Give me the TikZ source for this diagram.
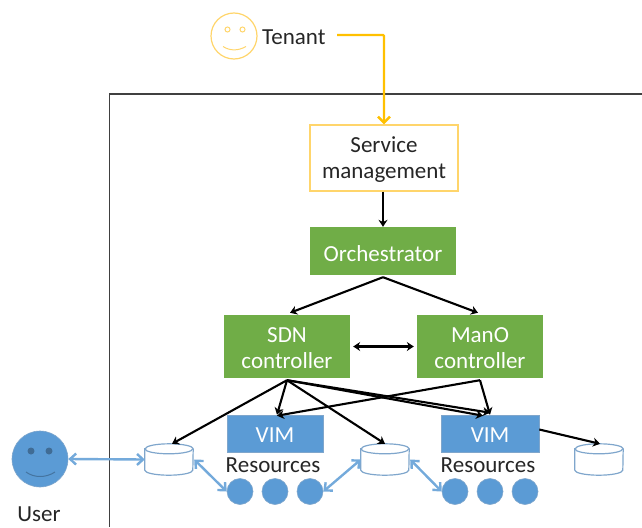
\documentclass[tikz,border=0pt]{standalone}
\usepackage{fontspec}
\setmainfont{Carlito}
\usetikzlibrary{arrows.meta,calc}
\definecolor{ygold}{HTML}{FFC000}
\definecolor{ysoft}{HTML}{FFD56B}
\definecolor{bfill}{HTML}{5B9BD5}
\definecolor{bline}{HTML}{7FA6CC}
\definecolor{gfill}{HTML}{70AD47}
\definecolor{txt}{HTML}{262626}
\tikzset{
 x=1pt,y=-1pt,
 every node/.style={font=\fontsize{23}{26.5}\selectfont,text=txt,align=center,inner sep=0pt},
 greenbox/.style={fill=gfill,text=white,minimum height=#1},
 greenbox/.default=63pt,
 vimbox/.style={fill=bfill,draw=bline,line width=.6pt,text=white,minimum height=37pt},
 res/.style={circle,fill=bfill,draw=bline,line width=.6pt,minimum size=26pt},
 store/.style={minimum width=48pt,minimum height=31pt},
 storeline/.style={draw=bline,fill=white,line width=1.2pt},
 blk/.style={draw=black,line width=2.1pt,-{Stealth[length=7pt,width=9pt]}},
 blkb/.style={draw=black,line width=2.1pt,{Stealth[length=7pt,width=9pt]}-{Stealth[length=7pt,width=9pt]}},
 blu/.style={draw=bfill!85!white,line width=2.4pt,{Straight Barb[length=6pt,width=11pt]}-{Straight Barb[length=6pt,width=11pt]}},
 gold/.style={draw=ygold,line width=2.4pt,-{Straight Barb[length=6pt,width=12pt]}},
}
\newcommand{\dn}[1]{\rule{0pt}{#1pt}}
\newcommand{\drumat}[1]{%
 \draw[storeline] (#1.north west)++(0,5) -- ($(#1.south west)+(0,-5)$)
   arc[start angle=180,end angle=360,x radius=24,y radius=-5] -- ($(#1.north east)+(0,5)$)
   arc[start angle=0,end angle=180,x radius=24,y radius=-5] -- cycle;
 \draw[storeline,fill=none] (#1.north west)++(0,5)
   arc[start angle=180,end angle=360,x radius=24,y radius=-5];
}
\begin{document}
\begin{tikzpicture}
\useasboundingbox (0,0) rectangle (642,527);
% frame
\draw[draw=black!75,line width=1.2pt] (642,94) -- (109.5,94) -- (109.5,527);
% tenant
\node[circle,draw=ysoft,line width=1.2pt,minimum size=46pt] (tenantface) at (234,36) {};
\draw[draw=ysoft,line width=1pt] (227.5,29.5) circle (2.5);
\draw[draw=ysoft,line width=1pt] (242.5,29.5) circle (2.5);
\draw[draw=ysoft,line width=1pt] (223,46.5) .. controls (230,51) and (238,51) .. (246,46.5);
\node[anchor=west] (tenant) at (262,37) {Tenant};
\coordinate (tenantout) at (337,35);
% boxes
\node[draw=ysoft,line width=1.4pt,minimum width=148pt,minimum height=66pt,fill=white] (svc) at (384,158) {\dn{19}Service\\management};
\node[greenbox=48pt,minimum width=146pt] (orch) at (383,251) {\dn{21}Orchestrator};
\node[greenbox,minimum width=126pt] (sdn) at (287,346.5) {\dn{18}SDN\\controller};
\node[greenbox,minimum width=126pt] (mano) at (480,346.5) {\dn{18}ManO\\controller};
\node[vimbox,minimum width=96pt] (vimA) at (275,433.5) {\dn{17}VIM};
\node[vimbox,minimum width=98pt] (vimB) at (490,433.5) {\dn{17}VIM};
\node (resA) at (273,465.5) {Resources};
\node (resB) at (488,465.5) {Resources};
\foreach \n/\x in {a/240,b/275,c/310,d/455,e/490,f/525}
  \node[res] (r\n) at (\x,491.5) {};
\node[store] (sa) at (169,459.5) {};
\node[store] (sb) at (385,459.5) {};
\node[store] (sc) at (599,459.5) {};
\drumat{sa}\drumat{sb}\drumat{sc}
% user
\node[circle,fill=bfill,draw=bline,line width=.6pt,minimum size=56pt] (userface) at (40,459) {};
\fill[black!30!bfill] (31,451) circle (3.5);
\fill[black!30!bfill] (49,451) circle (3.5);
\draw[draw=black!25!bfill,line width=1pt] (26,472) .. controls (34,478) and (46,478) .. (55,472);
\node (user) at (39,514) {User};
% connectors
\draw[gold,rounded corners=1pt] (tenantout) -- (384,35) -- (svc.north);
\draw[blk] (svc.south -| orch.north) -- (orch.north);
\draw[blk] ($(orch.south)+(0,2)$) -- ($(sdn.north)+(3,-2)$);
\draw[blk] ($(orch.south)+(0,2)$) -- ($(mano.north)+(-2,-2)$);
\draw[blkb] (sdn.east)++(3,0) -- ($(mano.west)+(-3,0)$);
\coordinate (sdnout) at ($(sdn.south)+(0,2)$);
\coordinate (manoout) at ($(mano.south)+(0,2)$);
\draw[blk] (sdnout) -- ($(sa.north)+(3,0)$);
\draw[blk] (sdnout) -- ($(vimA.north)+(2,0)$);
\draw[blk] (sdnout) -- ($(sb.north)+(0,0)$);
\draw[blk] (sdnout) -- ($(vimB.north)+(0,-2)$);
\draw[blk] (sdnout) -- ($(vimB.north)+(-7,1)$);
\draw[blk] (manoout) -- ($(vimA.north)+(2,1)$);
\draw[blk] (manoout) -- ($(vimB.north)+(0,0)$);
\draw[blk] (vimB.east)++(0,-4) -- ($(sc.north)+(1,0)$);
\draw[blu] (userface.east) -- (sa.west);
\draw[blu] (sa.east)++(1,0) -- (ra.west);
\draw[blu] (rc.east) -- (sb.west);
\draw[blu] (sb.east)++(1,0) -- (rd.west);
\end{tikzpicture}
\end{document}
